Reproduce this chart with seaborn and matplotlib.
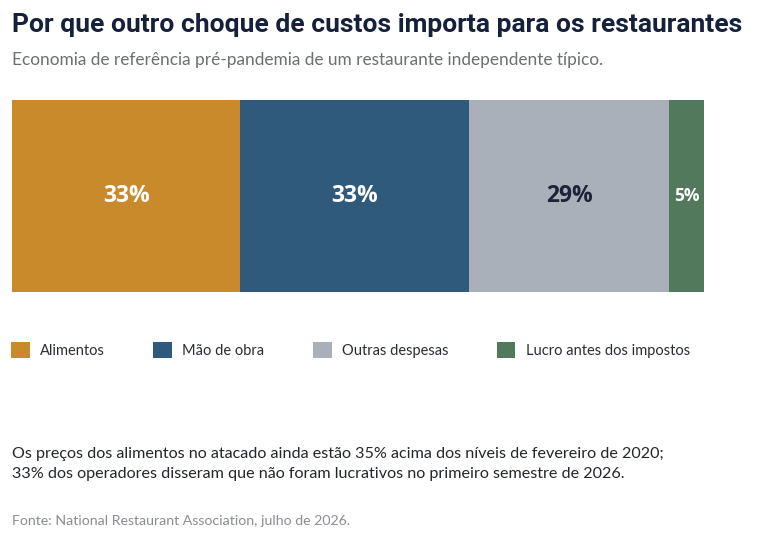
import numpy as np
import pandas as pd
import seaborn as sns
import matplotlib.pyplot as plt
from matplotlib.patches import Patch

# data
categories = ["Alimentos", "Mão de obra", "Outras despesas", "Lucro antes dos impostos"]
shares = [33, 33, 29, 5]
colors = ["#C98A2B", "#2F5A7C", "#A9B0B9", "#52795B"]
label_colors = ["white", "white", "#1B2438", "white"]

title = "Por que outro choque de custos importa para os restaurantes"
subtitle = "Economia de referência pré-pandemia de um restaurante independente típico."
note = ("Os preços dos alimentos no atacado ainda estão 35% acima dos níveis de fevereiro de 2020;\n"
        "33% dos operadores disseram que não foram lucrativos no primeiro semestre de 2026.")
source = "Fonte: National Restaurant Association, julho de 2026."

sns.set_style("white")
plt.rcParams["font.family"] = ["Lato", "DejaVu Sans"]

W, H = 768, 550
fig = plt.figure(figsize=(W / 100, H / 100), dpi=100)

# bar area in pixel coords
ax = fig.add_axes([12 / W, 1 - 292 / H, 692 / W, 192 / H])

df = pd.DataFrame({"cat": categories, "share": shares})
df["cum"] = df["share"].cumsum()
df["start"] = df["cum"] - df["share"]

# stacked by drawing cumulative bars from the back
for i in reversed(range(len(df))):
    sns.barplot(x=[df["cum"][i]], y=["total"], color=colors[i], orient="h",
                width=1.0, saturation=1, ax=ax, linewidth=0)

for i in range(len(df)):
    mid = df["start"][i] + df["share"][i] / 2
    ax.text(mid, 0, f"{df['share'][i]}%", ha="center", va="center",
            color=label_colors[i], fontsize=12.5 if df["share"][i] < 10 else 16.5,
            fontweight="bold", family=["Open Sans", "DejaVu Sans"])

ax.set_xlim(0, 100)
ax.set_ylim(0.5, -0.5)
ax.axis("off")

# titles
fig.text(12 / W, 1 - 25 / H, title, fontsize=19, fontweight="bold", color="#15203A",
         va="center", ha="left",
         family=["Liberation Sans Narrow", "DejaVu Sans Condensed", "Roboto", "DejaVu Sans"])
fig.text(12 / W, 1 - 60 / H, subtitle, fontsize=12.4, color="#6B6E73", va="center", ha="left")

# legend
handles = [Patch(facecolor=c, edgecolor="none", label=l) for c, l in zip(colors, categories)]
fig.legend(handles=handles, loc="center left", bbox_to_anchor=(-2 / W, 1 - 350 / H),
           ncol=4, frameon=False, fontsize=10.5, handlelength=1.3, handleheight=1.3,
           handletextpad=0.7, columnspacing=3.3, labelcolor="#2A2D33")

fig.text(12 / W, 1 - 464 / H, note, fontsize=11.6, color="#22252B", va="center", ha="left",
         linespacing=1.55)
fig.text(12 / W, 1 - 521 / H, source, fontsize=10.2, color="#8A8D92", va="center", ha="left")

plt.savefig("out.png", dpi=100)
